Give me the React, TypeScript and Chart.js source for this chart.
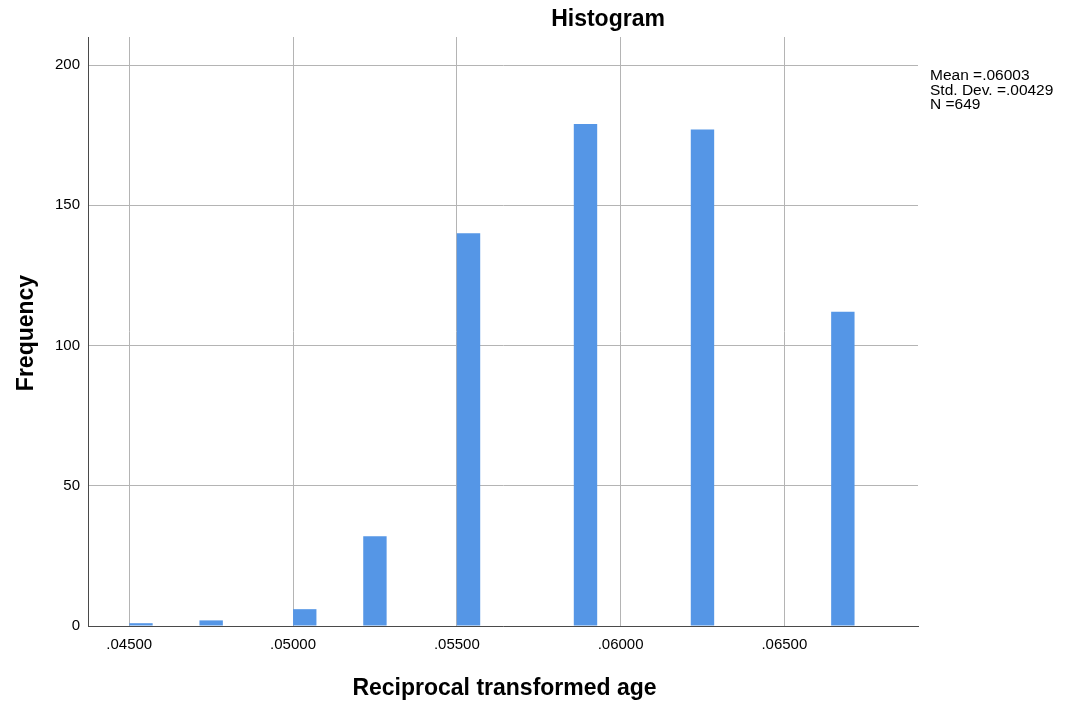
import React, { useEffect, useRef } from "react";
import { Chart, registerables } from "chart.js";

Chart.register(...registerables);

// Histogram bins (equal width) starting at .04500
const binStart = 0.045;
const binWidth = 0.005 / 7;
const frequencies = [
  1, 0, 0, 2, 0, 0, 0, 6, 0, 0, 32, 0, 0, 0, 140, 0, 0, 0, 0, 179, 0, 0, 0, 0,
  177, 0, 0, 0, 0, 0, 112,
];
const xTicks = [0.045, 0.05, 0.055, 0.06, 0.065];
const yTicks = [0, 50, 100, 150, 200];
const xMin = 0.04374;
const xMax = 0.06908;
const yMax = 210;
const chartTitle = "Histogram";
const xTitle = "Reciprocal transformed age";
const yTitle = "Frequency";
const statsLines = ["Mean =.06003", "Std. Dev. =.00429", "N =649"];

const FONT = '"Liberation Sans", Arial, Helvetica, sans-serif';

export default function App() {
  const ref = useRef<HTMLCanvasElement | null>(null);

  useEffect(() => {
    if (!ref.current) return;
    const points = frequencies.map((f, i) => ({
      x: binStart + (i + 0.5) * binWidth,
      y: f,
    }));

    const textPlugin = {
      id: "textPlugin",
      afterDraw(chart: any) {
        const ctx = chart.ctx;
        ctx.save();
        ctx.fillStyle = "#000";
        ctx.textBaseline = "alphabetic";
        ctx.font = `bold 23px ${FONT}`;
        ctx.textAlign = "center";
        ctx.fillText(chartTitle, 608, 26);
        ctx.fillText(xTitle, 504.5, 695);
        ctx.save();
        ctx.translate(33, 333);
        ctx.rotate(-Math.PI / 2);
        ctx.fillText(yTitle, 0, 0);
        ctx.restore();
        ctx.font = `15.5px ${FONT}`;
        ctx.textAlign = "left";
        statsLines.forEach((s, i) => ctx.fillText(s, 930, 80 + i * 14.5));
        ctx.restore();
      },
    };

    const chart = new Chart(ref.current, {
      type: "bar",
      data: {
        datasets: [
          {
            data: points,
            backgroundColor: "#5596e6",
            borderWidth: 0,
            inflateAmount: 0,
            barPercentage: 1,
            categoryPercentage: 1,
          },
        ],
      },
      options: {
        animation: false,
        responsive: false,
        layout: { padding: { top: 37, right: 147, left: 0, bottom: 0 } },
        plugins: {
          legend: { display: false },
          title: { display: false },
          tooltip: { enabled: false },
        },
        scales: {
          x: {
            type: "linear",
            min: xMin,
            max: xMax,
            offset: false,
            grid: {
              offset: false,
              color: "#b4b4b4",
              drawTicks: false,
              lineWidth: 1,
            },
            border: { display: true, color: "#4a4a4a", width: 1 },
            ticks: {
              padding: 10,
              color: "#000",
              font: { family: FONT, size: 15 },
              callback: (v: any) => Number(v).toFixed(5).replace(/^0/, ""),
            },
            afterBuildTicks: (scale: any) => {
              scale.ticks = xTicks.map((v) => ({ value: v }));
            },
            afterFit: (scale: any) => {
              scale.height = 80;
            },
          },
          y: {
            type: "linear",
            min: 0,
            max: yMax,
            grid: { color: "#b4b4b4", drawTicks: false, lineWidth: 1 },
            border: { display: true, color: "#4a4a4a", width: 1 },
            ticks: {
              padding: 8,
              color: "#000",
              font: { family: FONT, size: 15 },
            },
            afterBuildTicks: (scale: any) => {
              scale.ticks = yTicks.map((v) => ({ value: v }));
            },
            afterFit: (scale: any) => {
              scale.width = 88;
            },
          },
        },
      },
      plugins: [textPlugin],
    });
    return () => chart.destroy();
  }, []);

  return (
    <div
      style={{
        position: "fixed",
        left: 0,
        top: 0,
        width: 1065,
        height: 706,
        background: "#fff",
      }}
    >
      <canvas ref={ref} width={1065} height={706} />
    </div>
  );
}
